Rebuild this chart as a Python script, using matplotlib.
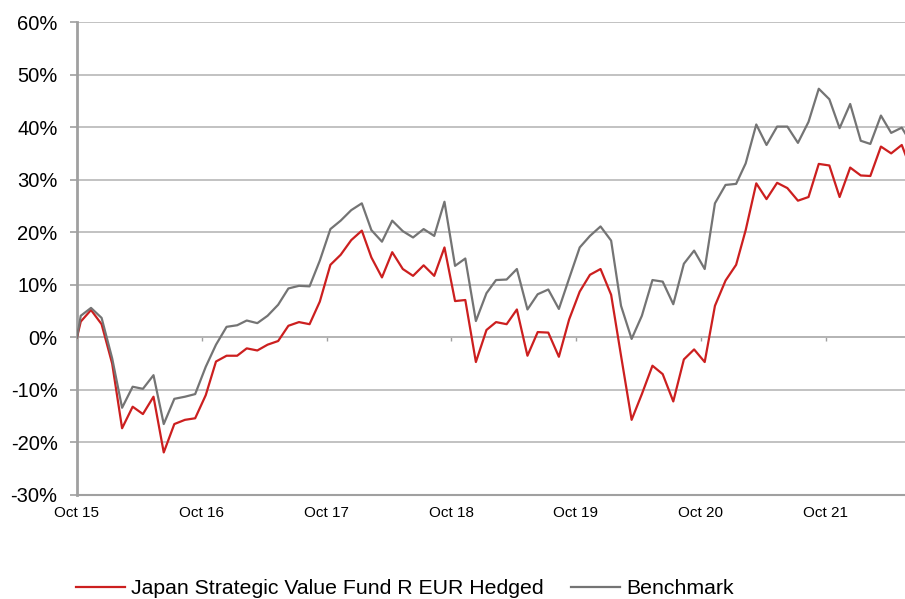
import matplotlib
matplotlib.use("Agg")
import matplotlib.pyplot as plt
import pandas as pd

# launch date, then month-end values (cumulative performance in %)
start_date = "2015-10-20"
first_month_end = "2015-10-31"

fund_returns = [
    0.0, 3.0, 5.2, 2.5, -5.0, -17.3, -13.2, -14.6, -11.3, -21.9,
    -16.5, -15.7, -15.4, -11.0, -4.6, -3.5, -3.5, -2.1, -2.5, -1.4,
    -0.7, 2.2, 2.9, 2.5, 6.8, 13.8, 15.7, 18.5, 20.3, 15.2,
    11.4, 16.2, 13.0, 11.7, 13.7, 11.7, 17.1, 6.9, 7.1, -4.7,
    1.4, 2.9, 2.5, 5.3, -3.5, 1.0, 0.9, -3.7, 3.4, 8.7,
    11.9, 13.0, 8.1, -3.5, -15.7, -10.8, -5.4, -7.0, -12.2, -4.2,
    -2.3, -4.7, 6.0, 10.8, 13.8, 20.4, 29.3, 26.3, 29.4, 28.4,
    26.0, 26.7, 33.0, 32.7, 26.7, 32.3, 30.8, 30.7, 36.3, 35.0,
    36.6, 31.5,
]

benchmark_returns = [
    0.0, 4.1, 5.6, 3.7, -4.0, -13.4, -9.4, -9.8, -7.2, -16.5,
    -11.7, -11.3, -10.8, -5.6, -1.4, 2.0, 2.3, 3.2, 2.7, 4.1,
    6.2, 9.3, 9.8, 9.7, 14.6, 20.6, 22.2, 24.2, 25.5, 20.4,
    18.2, 22.2, 20.2, 19.0, 20.6, 19.3, 25.8, 13.6, 15.0, 3.1,
    8.4, 10.9, 11.0, 13.0, 5.3, 8.2, 9.1, 5.4, 11.2, 17.1,
    19.3, 21.1, 18.4, 6.0, -0.3, 4.1, 10.9, 10.6, 6.3, 14.0,
    16.5, 13.0, 25.5, 29.0, 29.2, 33.1, 40.5, 36.6, 40.1, 40.1,
    37.0, 41.0, 47.3, 45.3, 39.8, 44.4, 37.4, 36.8, 42.2, 38.9,
    39.9, 36.7,
]

tick_labels = ["Oct 15", "Oct 16", "Oct 17", "Oct 18", "Oct 19", "Oct 20", "Oct 21"]
y_ticks = [-30, -20, -10, 0, 10, 20, 30, 40, 50, 60]

fund_name = "Japan Strategic Value Fund R EUR Hedged"
bench_name = "Benchmark"


def build_dates():
    month_ends = pd.date_range(first_month_end, periods=len(fund_returns) - 1, freq="ME")
    return [pd.Timestamp(start_date)] + list(month_ends)


def plot_performance(dates):
    plt.rcParams['font.family'] = ['Liberation Sans', 'DejaVu Sans']

    fig = plt.figure(figsize=(9.05, 5.99), dpi=100)
    # axes runs past the right edge of the image, like the original crop
    ax = fig.add_axes([77 / 905, 104 / 599, 835 / 905, 473 / 599])

    ax.plot(dates, fund_returns, color='#cc1f1f', linewidth=1.6, label=fund_name, zorder=3)
    ax.plot(dates, benchmark_returns, color='#747474', linewidth=1.6, label=bench_name, zorder=3)

    ax.set_ylim(-30, 60)
    ax.set_xlim(dates[0], dates[-1])
    ax.set_yticks(y_ticks)
    ax.set_yticklabels([f"{v}%" for v in y_ticks])
    ax.grid(axis='y', color='#b8b8b8', linewidth=1.2)
    ax.set_axisbelow(True)

    tick_dates = [pd.Timestamp(start_date) + pd.DateOffset(years=i) for i in range(len(tick_labels))]
    ax.set_xticks(tick_dates)
    ax.set_xticklabels(tick_labels)
    ax.tick_params(axis='x', length=0, labelsize=11, pad=8)
    ax.tick_params(axis='y', length=5, width=1.2, color='#a0a0a0', labelsize=14.5, pad=9)

    for side in ['top', 'right']:
        ax.spines[side].set_visible(False)
    ax.spines['left'].set_color('#a0a0a0')
    ax.spines['left'].set_linewidth(2)
    ax.spines['bottom'].set_color('#a0a0a0')
    ax.spines['bottom'].set_linewidth(1.5)

    # horizontal axis line at 0% with small tick marks
    zero_axis = ax.secondary_xaxis(1 / 3)
    zero_axis.set_xticks(tick_dates)
    zero_axis.tick_params(axis='x', length=3, width=1, color='#a0a0a0', labelbottom=False)
    zero_axis.spines['bottom'].set_color('#9a9a9a')
    zero_axis.spines['bottom'].set_linewidth(1.2)

    fig.legend(loc='center', bbox_to_anchor=(405 / 905, 1 - 589 / 599), ncol=2, frameon=False,
               fontsize=15.3, handlelength=2.3, handletextpad=0.3, columnspacing=1.3)

    fig.savefig("out.png", dpi=100)


def main():
    dates = build_dates()
    plot_performance(dates)


if __name__ == "__main__":
    main()
